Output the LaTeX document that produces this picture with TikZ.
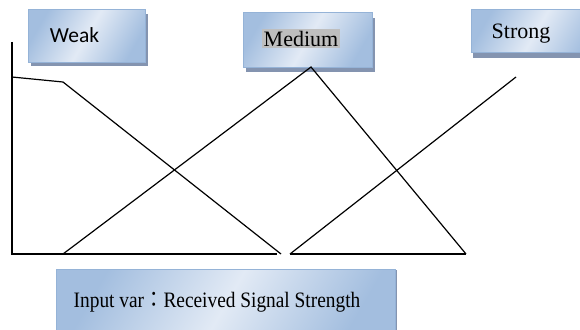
\documentclass[tikz,border=0pt]{standalone}
\usepackage{fontspec}
\setmainfont{Liberation Serif}
\newfontfamily\calfont{Carlito}
\newfontfamily\cjkfont{Noto Sans CJK TC}
\usetikzlibrary{positioning}

\definecolor{boxedge}{RGB}{149,179,215}
\definecolor{boxdark}{RGB}{163,190,223}
\definecolor{boxlight}{RGB}{226,234,245}
\definecolor{shadowc}{RGB}{132,148,176}
\definecolor{hlgray}{RGB}{190,190,190}

\begin{document}
\begin{tikzpicture} [
    x=1pt, y=-1pt,
    termbox/.style={rectangle, draw=boxedge, line width=1pt, left color=boxdark, right color=boxdark, middle color=boxlight, shading angle=60, inner sep=0pt},
    shadowbox/.style={rectangle, fill=shadowc, draw=none, inner sep=0pt},
    lbl/.style={inner sep=0pt, font=\fontsize{22}{24}\selectfont},
    curve/.style={line width=1.2pt, line join=miter}
    ]
    \useasboundingbox (0,0) rectangle (580,329);

    %Nodes
    \node[shadowbox, minimum width=117pt, minimum height=52pt] (weakshadow)   at (89.5,40) {};
    \node[termbox,   minimum width=117pt, minimum height=52pt] (weakbox)      at (86.5,36) {};
    \node[shadowbox, minimum width=129pt, minimum height=54pt] (mediumshadow) at (310,45) {};
    \node[termbox,   minimum width=129pt, minimum height=54pt] (mediumbox)    at (307.5,40) {};
    \node[shadowbox, minimum width=130pt, minimum height=43pt] (strongshadow) at (538,36.5) {};
    \node[termbox,   minimum width=130pt, minimum height=43pt] (strongbox)    at (536,31.5) {};
    \node[shadowbox, minimum width=339pt, minimum height=70pt] (inputshadow)  at (227,305) {};
    \node[termbox,   minimum width=339pt, minimum height=70pt] (inputbox)     at (225.5,304) {};

    \node[lbl, font=\calfont\fontsize{21.5}{24}\selectfont] (weak) at (74.5,35) {Weak};
    \node[lbl] (medium) at (301,38.5) {\setlength{\fboxsep}{1.5pt}\colorbox{hlgray}{Medium}};
    \node[lbl] (strong) at (521,34) {Strong};
    \node[lbl, xscale=0.88] (input) at (217,302) {Input var{\cjkfont ：}Received Signal Strength};

    %Lines
    \coordinate (top)   at (12,42);
    \coordinate (orig)  at (12,254);
    \coordinate (wa)    at (12,77);
    \coordinate (wb)    at (63,82);
    \coordinate (wc)    at (281,254);
    \coordinate (ma)    at (63,254);
    \coordinate (mpeak) at (311,67);
    \coordinate (mc)    at (466,254);
    \coordinate (sa)    at (290,254);
    \coordinate (send)  at (516,77);
    \coordinate (axend) at (277,254);

    \draw[curve] (top) -- (orig) -- (axend);
    \draw[curve] (wa) -- (wb) -- (wc);
    \draw[curve] (ma) -- (mpeak) -- (mc);
    \draw[curve] (sa) -- (send);
    \draw[curve] (sa) -- (mc);

\end{tikzpicture}
\end{document}
